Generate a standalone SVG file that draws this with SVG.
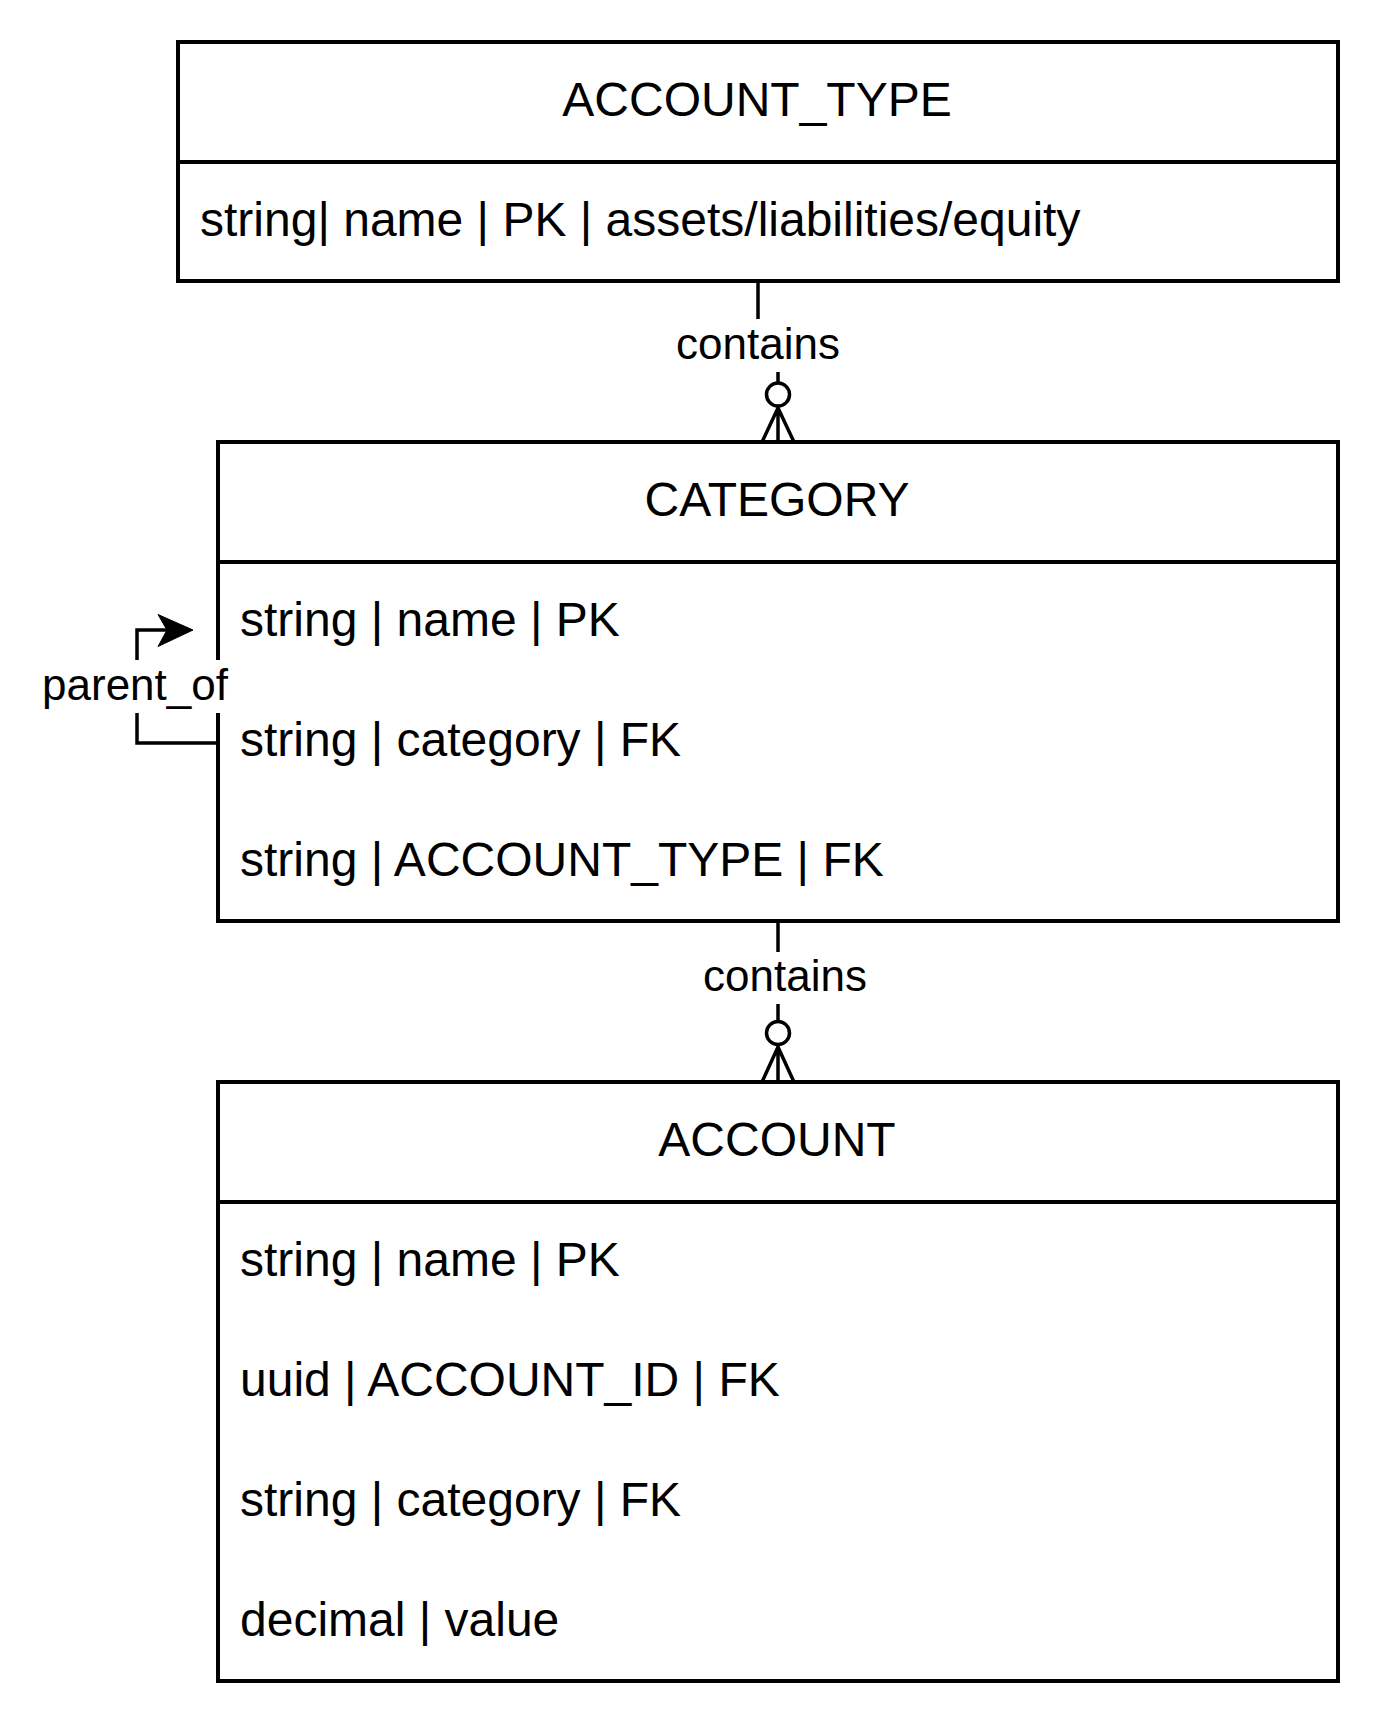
<svg xmlns="http://www.w3.org/2000/svg" width="1380" height="1724" viewBox="0 0 1380 1724">
<style>
.box{fill:#ffffff;stroke:#000000;stroke-width:4}
.sep{stroke:#000000;stroke-width:4}
.title{font-family:"Liberation Sans",Arial,sans-serif;font-size:48px;fill:#000000;text-anchor:middle}
.attr{font-family:"Liberation Sans",Arial,sans-serif;font-size:48px;fill:#000000}
.edge{fill:none;stroke:#000000;stroke-width:3.5}
.lbl{font-family:"Liberation Sans",Arial,sans-serif;font-size:44px;fill:#000000;text-anchor:middle}
.lblbg{fill:#ffffff;stroke:none}
.ring{fill:#ffffff;stroke:#000000;stroke-width:3.5}
</style>
<rect width="1380" height="1724" fill="#ffffff"/>
<g id="node-account-type">
<rect class="box" x="178" y="42" width="1160" height="239"/>
<line class="sep" x1="178" y1="162" x2="1338" y2="162"/>
<text class="title" x="757" y="116">ACCOUNT_TYPE</text>
<text class="attr" x="200" y="236">string| name | PK | assets/liabilities/equity</text>
</g>
<g id="node-category">
<rect class="box" x="218" y="442" width="1120" height="479"/>
<line class="sep" x1="218" y1="562" x2="1338" y2="562"/>
<text class="title" x="777" y="516">CATEGORY</text>
<text class="attr" x="240" y="636">string | name | PK</text>
<text class="attr" x="240" y="756">string | category | FK</text>
<text class="attr" x="240" y="876">string | ACCOUNT_TYPE | FK</text>
</g>
<g id="node-account">
<rect class="box" x="218" y="1082" width="1120" height="599"/>
<line class="sep" x1="218" y1="1202" x2="1338" y2="1202"/>
<text class="title" x="777" y="1156">ACCOUNT</text>
<text class="attr" x="240" y="1276">string | name | PK</text>
<text class="attr" x="240" y="1396">uuid | ACCOUNT_ID | FK</text>
<text class="attr" x="240" y="1516">string | category | FK</text>
<text class="attr" x="240" y="1636">decimal | value</text>
</g>
<g id="connectors">
<g id="edge-type-category">
<path class="edge" d="M758 281 V345 H778 V383"/>
<circle class="ring" cx="778" cy="394.5" r="11.5"/>
<path class="edge" d="M778 406 V442 M778 408 L762 442 M778 408 L794 442"/>
<rect class="lblbg" x="675" y="319" width="166" height="53"/>
<text class="lbl" x="758" y="359">contains</text>
</g>
<g id="edge-category-account">
<path class="edge" d="M778 921 V1021"/>
<circle class="ring" cx="778" cy="1033" r="11.5"/>
<path class="edge" d="M778 1045 V1082 M778 1047 L762 1082 M778 1047 L794 1082"/>
<rect class="lblbg" x="702" y="952" width="166" height="52"/>
<text class="lbl" x="785" y="991">contains</text>
</g>
<g id="edge-parent-of">
<path class="edge" d="M218 743 H137 V630 H168"/>
<polygon points="193,630 158,614.5 167,630 158,646.5" fill="#000000" stroke="#000000" stroke-width="1"/>
<rect class="lblbg" x="40" y="660" width="190" height="53"/>
<text class="lbl" x="135" y="700">parent_of</text>
</g>
</g>
</svg>
